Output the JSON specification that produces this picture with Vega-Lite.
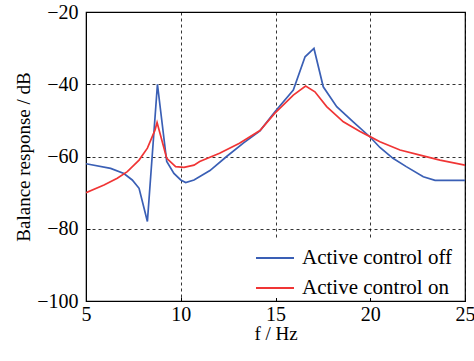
{
  "$schema": "https://vega.github.io/schema/vega-lite/v6.json",
  "width": 379,
  "height": 289,
  "autosize": {"type": "none"},
  "padding": {"left": 86, "top": 12, "right": 9, "bottom": 60},
  "background": "white",
  "config": {
    "view": {"stroke": "black", "strokeWidth": 1.2},
    "font": "Liberation Serif, Times New Roman, serif",
    "axis": {
      "labelFont": "Liberation Serif, Times New Roman, serif",
      "titleFont": "Liberation Serif, Times New Roman, serif",
      "labelFontSize": 20,
      "titleFontSize": 19,
      "titleFontWeight": "normal",
      "labelColor": "black",
      "titleColor": "black",
      "domainColor": "black",
      "tickColor": "black",
      "tickSize": -4,
      "grid": true,
      "gridColor": "black",
      "gridDash": [3, 3],
      "gridOpacity": 1,
      "gridWidth": 0.8
    },
    "legend": {
      "labelFont": "Liberation Serif, Times New Roman, serif"
    }
  },
  "data": {
    "values": [
      {"f": 5.0, "dB": -62.0, "s": "Active control off"},
      {"f": 6.3, "dB": -63.3, "s": "Active control off"},
      {"f": 7.0, "dB": -64.7, "s": "Active control off"},
      {"f": 7.44, "dB": -66.5, "s": "Active control off"},
      {"f": 7.8, "dB": -68.8, "s": "Active control off"},
      {"f": 8.24, "dB": -78.0, "s": "Active control off"},
      {"f": 8.77, "dB": -40.0, "s": "Active control off"},
      {"f": 9.26, "dB": -61.4, "s": "Active control off"},
      {"f": 9.64, "dB": -64.7, "s": "Active control off"},
      {"f": 10.0, "dB": -66.5, "s": "Active control off"},
      {"f": 10.26, "dB": -67.2, "s": "Active control off"},
      {"f": 10.7, "dB": -66.5, "s": "Active control off"},
      {"f": 11.54, "dB": -63.9, "s": "Active control off"},
      {"f": 12.42, "dB": -60.0, "s": "Active control off"},
      {"f": 13.3, "dB": -56.3, "s": "Active control off"},
      {"f": 14.18, "dB": -52.9, "s": "Active control off"},
      {"f": 14.97, "dB": -47.6, "s": "Active control off"},
      {"f": 15.94, "dB": -41.6, "s": "Active control off"},
      {"f": 16.56, "dB": -32.4, "s": "Active control off"},
      {"f": 17.03, "dB": -30.1, "s": "Active control off"},
      {"f": 17.52, "dB": -40.7, "s": "Active control off"},
      {"f": 18.23, "dB": -46.2, "s": "Active control off"},
      {"f": 19.1, "dB": -50.4, "s": "Active control off"},
      {"f": 19.99, "dB": -54.6, "s": "Active control off"},
      {"f": 20.51, "dB": -57.5, "s": "Active control off"},
      {"f": 21.2, "dB": -60.5, "s": "Active control off"},
      {"f": 21.9, "dB": -62.8, "s": "Active control off"},
      {"f": 22.8, "dB": -65.6, "s": "Active control off"},
      {"f": 23.42, "dB": -66.6, "s": "Active control off"},
      {"f": 25.0, "dB": -66.6, "s": "Active control off"},
      {"f": 5.0, "dB": -70.0, "s": "Active control on"},
      {"f": 5.95, "dB": -67.9, "s": "Active control on"},
      {"f": 6.65, "dB": -66.0, "s": "Active control on"},
      {"f": 7.18, "dB": -64.2, "s": "Active control on"},
      {"f": 7.8, "dB": -61.0, "s": "Active control on"},
      {"f": 8.24, "dB": -57.7, "s": "Active control on"},
      {"f": 8.64, "dB": -52.7, "s": "Active control on"},
      {"f": 8.75, "dB": -50.6, "s": "Active control on"},
      {"f": 9.26, "dB": -60.5, "s": "Active control on"},
      {"f": 9.73, "dB": -62.8, "s": "Active control on"},
      {"f": 10.17, "dB": -63.0, "s": "Active control on"},
      {"f": 10.7, "dB": -62.4, "s": "Active control on"},
      {"f": 11.0, "dB": -61.4, "s": "Active control on"},
      {"f": 12.05, "dB": -59.1, "s": "Active control on"},
      {"f": 13.1, "dB": -56.3, "s": "Active control on"},
      {"f": 14.18, "dB": -52.8, "s": "Active control on"},
      {"f": 14.97, "dB": -48.0, "s": "Active control on"},
      {"f": 15.94, "dB": -43.0, "s": "Active control on"},
      {"f": 16.59, "dB": -40.5, "s": "Active control on"},
      {"f": 17.08, "dB": -42.1, "s": "Active control on"},
      {"f": 17.7, "dB": -46.2, "s": "Active control on"},
      {"f": 18.58, "dB": -50.4, "s": "Active control on"},
      {"f": 19.46, "dB": -53.1, "s": "Active control on"},
      {"f": 19.99, "dB": -54.5, "s": "Active control on"},
      {"f": 20.51, "dB": -55.9, "s": "Active control on"},
      {"f": 21.57, "dB": -58.2, "s": "Active control on"},
      {"f": 22.63, "dB": -59.6, "s": "Active control on"},
      {"f": 23.68, "dB": -61.0, "s": "Active control on"},
      {"f": 25.0, "dB": -62.4, "s": "Active control on"}
    ]
  },
  "mark": {"type": "line", "strokeWidth": 1.7, "clip": true},
  "encoding": {
    "x": {
      "field": "f",
      "type": "quantitative",
      "scale": {"domain": [5, 25], "nice": false, "zero": false},
      "axis": {"values": [5, 10, 15, 20, 25], "title": "f / Hz", "labelPadding": 7, "titlePadding": 0, "labelFlush": false}
    },
    "y": {
      "field": "dB",
      "type": "quantitative",
      "scale": {"domain": [-100, -20], "nice": false, "zero": false},
      "axis": {"values": [-100, -80, -60, -40, -20], "title": "Balance response / dB", "labelPadding": 12, "titlePadding": 3}
    },
    "color": {
      "field": "s",
      "type": "nominal",
      "scale": {"domain": ["Active control off", "Active control on"], "range": ["#3a5fb5", "#f03535"]},
      "legend": {
        "title": null,
        "orient": "none",
        "legendX": 169,
        "legendY": 226,
        "fillColor": "white",
        "padding": 0,
        "labelFontSize": 21,
        "labelColor": "black",
        "symbolType": "stroke",
        "symbolSize": 1444,
        "symbolStrokeWidth": 2,
        "rowPadding": -20,
        "labelOffset": 7
      }
    },
    "order": {"field": "f", "type": "quantitative"}
  }
}
